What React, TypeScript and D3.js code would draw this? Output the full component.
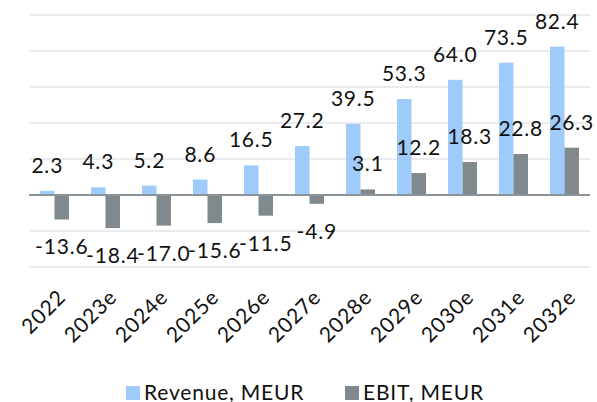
import React, { useRef, useEffect } from "react";
import * as d3 from "d3";

const years = ["2022", "2023e", "2024e", "2025e", "2026e", "2027e", "2028e", "2029e", "2030e", "2031e", "2032e"];
const revenue = [2.3, 4.3, 5.2, 8.6, 16.5, 27.2, 39.5, 53.3, 64.0, 73.5, 82.4];
const ebit = [-13.6, -18.4, -17.0, -15.6, -11.5, -4.9, 3.1, 12.2, 18.3, 22.8, 26.3];
const gridTicks = [-40, -20, 0, 20, 40, 60, 80, 100];

const width = 597;
const height = 402;
const font = "Lato, sans-serif";
const revColor = "#9fcbfb";
const ebitColor = "#7f898e";

const App = () => {
    const ref = useRef(null);

    useEffect(() => {
        const svg = d3.select(ref.current);
        svg.selectAll("*").remove();

        let left = 29, right = 590;
        const y = d3.scaleLinear([-40, 100], [267, 15]);
        const x = d3.scaleBand(years, [left, right]);
        const inner = d3.scaleBand(["rev", "ebit"], [0, 29]);
        const off = (x.bandwidth() - 29) / 2;

        // grid
        svg.append("g")
            .selectAll("line")
            .data(gridTicks.filter(t => t != 0))
            .enter()
            .append("line")
            .attr("x1", left).attr("x2", right)
            .attr("y1", d => y(d)).attr("y2", d => y(d))
            .attr("stroke", "#ebebef")
            .attr("stroke-width", 2);

        // plain hyphen for negatives, like the original
        const fmt = d => d.toFixed(1);

        // revenue bars
        svg.append("g")
            .selectAll("rect")
            .data(revenue)
            .enter()
            .append("rect")
            .attr("x", (d, i) => x(years[i]) + off + inner("rev"))
            .attr("width", inner.bandwidth())
            .attr("y", d => y(d))
            .attr("height", d => y(0) - y(d))
            .attr("fill", revColor);

        // ebit bars
        svg.append("g")
            .selectAll("rect")
            .data(ebit)
            .enter()
            .append("rect")
            .attr("x", (d, i) => x(years[i]) + off + inner("ebit"))
            .attr("width", inner.bandwidth())
            .attr("y", d => y(Math.max(0, d)))
            .attr("height", d => Math.abs(y(0) - y(d)))
            .attr("fill", ebitColor);

        // zero axis
        svg.append("line")
            .attr("x1", left).attr("x2", right)
            .attr("y1", y(0)).attr("y2", y(0))
            .attr("stroke", "#8c9399")
            .attr("stroke-width", 2);

        // value labels
        svg.append("g")
            .selectAll("text")
            .data(revenue)
            .enter()
            .append("text")
            .attr("x", (d, i) => x(years[i]) + off + inner("rev") + inner.bandwidth() / 2)
            .attr("y", d => y(d) - 18)
            .attr("text-anchor", "middle")
            .attr("font-family", font)
            .attr("font-size", 21)
            .attr("letter-spacing", 0.8)
            .attr("fill", "#111")
            .text(d => fmt(d));

        svg.append("g")
            .selectAll("text")
            .data(ebit)
            .enter()
            .append("text")
            .attr("x", (d, i) => x(years[i]) + off + inner("ebit") + inner.bandwidth() / 2)
            .attr("y", d => d < 0 ? y(d) + 35 : y(d) - 18)
            .attr("text-anchor", "middle")
            .attr("font-family", font)
            .attr("font-size", 21)
            .attr("letter-spacing", 0.8)
            .attr("fill", "#111")
            .text(d => fmt(d));

        // x labels
        svg.append("g")
            .selectAll("text")
            .data(years)
            .enter()
            .append("text")
            .attr("transform", d => `translate(${x(d) + x.bandwidth() / 2 + 2},${288}) rotate(-45)`)
            .attr("dy", "0.71em")
            .attr("text-anchor", "end")
            .attr("font-family", font)
            .attr("font-size", 21)
            .attr("letter-spacing", 0.8)
            .attr("fill", "#111")
            .text(d => d);

        // legend
        const legend = [["Revenue, MEUR", revColor, 126], ["EBIT, MEUR", ebitColor, 345]];
        legend.forEach(l => {
            const g = svg.append("g").attr("transform", `translate(${l[2]},386)`);
            g.append("rect").attr("width", 14).attr("height", 14).attr("fill", l[1]);
            g.append("text")
                .attr("x", 18).attr("y", 13.5)
                .attr("font-family", font)
                .attr("font-size", 21)
                .attr("letter-spacing", 0.8)
                .attr("fill", "#111")
                .text(l[0]);
        });
    }, []);

    return (
        <svg ref={ref} width={width} height={height} style={{ display: "block", position: "absolute", left: 0, top: 0 }}>
        </svg>
    );
};

export default App;
